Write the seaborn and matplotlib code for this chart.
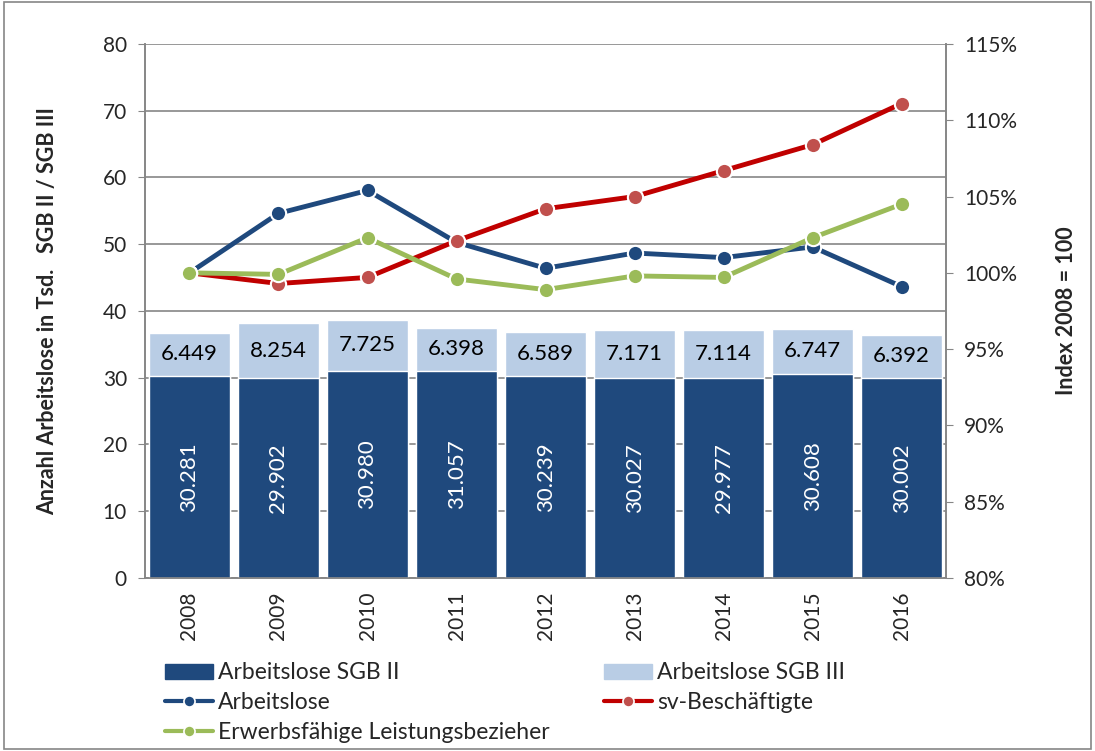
import numpy as np
import pandas as pd
import matplotlib
matplotlib.use("Agg")
import matplotlib.pyplot as plt
import seaborn as sns
from matplotlib.lines import Line2D
from matplotlib.patches import Patch, Rectangle

# Daten
jahre = ["2008", "2009", "2010", "2011", "2012", "2013", "2014", "2015", "2016"]
sgb2 = [30281, 29902, 30980, 31057, 30239, 30027, 29977, 30608, 30002]
sgb3 = [6449, 8254, 7725, 6398, 6589, 7171, 7114, 6747, 6392]
arbeitslose_idx = [100.0, 103.9, 105.4, 102.0, 100.3, 101.3, 101.0, 101.7, 99.1]
sv_idx = [100.0, 99.3, 99.7, 102.1, 104.2, 105.0, 106.7, 108.4, 111.1]
elb_idx = [100.0, 99.9, 102.3, 99.6, 98.9, 99.8, 99.7, 102.3, 104.5]

c_dark = "#1F497D"
c_light = "#B9CDE5"
c_red = "#C00000"
c_red_m = "#C0504D"
c_green = "#9BBB59"
c_grid = "#868686"

sns.set_style("white")
plt.rcParams["font.family"] = ["Lato", "DejaVu Sans"]

df = pd.DataFrame({"Jahr": jahre, "SGB2": np.array(sgb2) / 1000,
                   "SGB3": np.array(sgb3) / 1000})
df["Gesamt"] = df["SGB2"] + df["SGB3"]

fig = plt.figure(figsize=(10.95, 7.51), dpi=100)
ax = fig.add_axes([0.1324, 0.2304, 0.7316, 0.711])

# gestapelte Balken: Gesamt hell, SGB II dunkel darüber
sns.barplot(data=df, x="Jahr", y="Gesamt", color=c_light, width=0.91,
            saturation=1, ax=ax, zorder=2)
sns.barplot(data=df, x="Jahr", y="SGB2", color=c_dark, width=0.91,
            saturation=1, ax=ax, zorder=3)

for i in range(len(jahre)):
    lab2 = f"{sgb2[i]:,}".replace(",", ".")
    lab3 = f"{sgb3[i]:,}".replace(",", ".")
    ax.text(i, df["SGB2"][i] / 2, lab2, rotation=90, ha="center", va="center",
            color="white", fontsize=16, zorder=4)
    ax.text(i, df["SGB2"][i] + df["SGB3"][i] / 2, lab3, ha="center",
            va="center", color="black", fontsize=16, zorder=4)

ax.set_ylim(0, 80)
ax.set_yticks(range(0, 81, 10))
ax.set_xlim(-0.5, len(jahre) - 0.5)
ax.yaxis.grid(True, color=c_grid, lw=1.2)
ax.set_axisbelow(True)
ax.set_xlabel("")
ax.set_ylabel("Anzahl Arbeitslose in Tsd.   SGB II / SGB III", fontsize=15.5,
              fontweight="bold", labelpad=32)
ax.tick_params(axis="y", labelsize=15, length=5, color=c_grid, pad=8)
ax.tick_params(axis="x", which="major", labelsize=15, length=0, pad=10,
               labelrotation=90)
ax.set_xticks(np.arange(-0.5, len(jahre)), minor=True)
ax.tick_params(axis="x", which="minor", length=6, color=c_grid, width=1.2)
for s in ["left", "right", "bottom"]:
    ax.spines[s].set_color(c_grid)
    ax.spines[s].set_linewidth(1.2)
ax.spines["top"].set_visible(False)

# Indexlinien
ax2 = ax.twinx()
x = np.arange(len(jahre))
for vals, lc, mc in [(arbeitslose_idx, c_dark, c_dark),
                     (sv_idx, c_red, c_red_m),
                     (elb_idx, c_green, c_green)]:
    sns.lineplot(x=x, y=vals, ax=ax2, color=lc, lw=3.5, zorder=5)
    ax2.plot(x, vals, ls="none", marker="o", ms=11, mfc=mc, mec="white",
             mew=1.5, zorder=6)
ax2.set_ylim(80, 115)
ax2.set_yticks(range(80, 116, 5))
ax2.set_yticklabels([f"{v}%" for v in range(80, 116, 5)])
ax2.tick_params(axis="y", labelsize=15, length=5, color=c_grid, pad=8)
ax2.set_ylabel("Index 2008 = 100", fontsize=15.5, fontweight="bold",
               labelpad=28)
for s in ["left", "right", "bottom"]:
    ax2.spines[s].set_color(c_grid)
    ax2.spines[s].set_linewidth(1.2)
ax2.spines["top"].set_visible(False)

# Legende
handles = [
    Patch(color=c_dark, label="Arbeitslose SGB II"),
    Line2D([], [], color=c_dark, lw=3, marker="o", ms=8, mfc=c_dark,
           mec="white", mew=1.2, label="Arbeitslose"),
    Line2D([], [], color=c_green, lw=3, marker="o", ms=8, mfc=c_green,
           mec="white", mew=1.2, label="Erwerbsfähige Leistungsbezieher"),
    Patch(color=c_light, label="Arbeitslose SGB III"),
    Line2D([], [], color=c_red, lw=3, marker="o", ms=8, mfc=c_red_m,
           mec="white", mew=1.2, label="sv-Beschäftigte"),
]
fig.legend(handles=handles, ncol=2, loc="upper left",
           bbox_to_anchor=(0.1507, 0.118), frameon=False, fontsize=16.5,
           handlelength=2.1, handleheight=0.6, handletextpad=0.2,
           columnspacing=2.4, labelspacing=0.38, borderaxespad=0,
           borderpad=0)

fig.patches.append(Rectangle((0.004, 0.002), 0.992, 0.996,
                             transform=fig.transFigure, fill=False,
                             edgecolor=c_grid, lw=1.2))

fig.savefig("out.png", dpi=100)
